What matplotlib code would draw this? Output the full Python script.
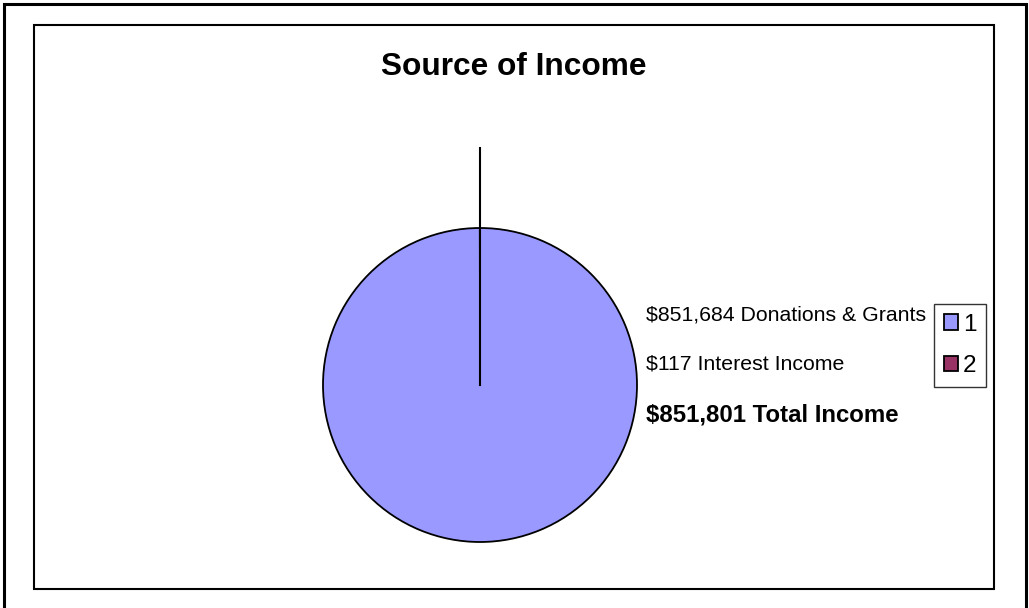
import matplotlib
matplotlib.use("Agg")
import matplotlib.pyplot as plt
from matplotlib.patches import Rectangle

plt.rcParams['font.family'] = ['Liberation Sans', 'DejaVu Sans']

# data
sources = ['1', '2']
amounts = [851684, 117]
colors = ['#9999FF', '#993366']
labels_text = ['$851,684 Donations & Grants', '$117 Interest Income']
total_text = '$851,801 Total Income'
title = 'Source of Income'

W, H = 1029, 608
fig = plt.figure(figsize=(W / 100, H / 100), dpi=100)

# outer and inner frames (pixel coords -> figure fraction)
def frame(x0, y0, x1, y1, lw):
    fig.add_artist(Rectangle((x0 / W, 1 - y1 / H), (x1 - x0) / W, (y1 - y0) / H,
                             transform=fig.transFigure, fill=False, ec='black', lw=lw))

frame(4, 4, 1026, 620, 2.2)
frame(34, 25, 994, 589, 1.5)

# pie axes: center at (480, 385) px, radius 157 px
R = 157
lim = 1.6
size = 2 * lim * R
cx, cy = 480, 385
ax = fig.add_axes([(cx - size / 2) / W, (H - cy - size / 2) / H, size / W, size / H])
wedges, _ = ax.pie(amounts, colors=colors, startangle=90, counterclock=False,
                   wedgeprops=dict(edgecolor='black', linewidth=1.3))
ax.plot([0, 0], [0, 1.51], color='black', lw=1.5)
ax.set_xlim(-lim, lim)
ax.set_ylim(-lim, lim)
ax.set_aspect('equal')
ax.axis('off')

fig.text(514 / W, 1 - 67 / H, title, ha='center', va='center',
         fontsize=22.8, fontweight='bold')

fig.text(646 / W, 1 - 315 / H, labels_text[0], ha='left', va='center', fontsize=15.3)
fig.text(646 / W, 1 - 364 / H, labels_text[1], ha='left', va='center', fontsize=15.3)
fig.text(646 / W, 1 - 415 / H, total_text, ha='left', va='center',
         fontsize=17.3, fontweight='bold')

leg = fig.legend(wedges, sources, loc='upper left',
                 bbox_to_anchor=(934 / W, 1 - 304 / H), fontsize=17.5,
                 frameon=True, fancybox=False, edgecolor='black',
                 handlelength=0.6, handleheight=0.6, handletextpad=0.2,
                 labelspacing=0.8, borderpad=0.4, borderaxespad=0)
leg.get_frame().set_linewidth(1.0)

fig.savefig('out.png', dpi=100)
